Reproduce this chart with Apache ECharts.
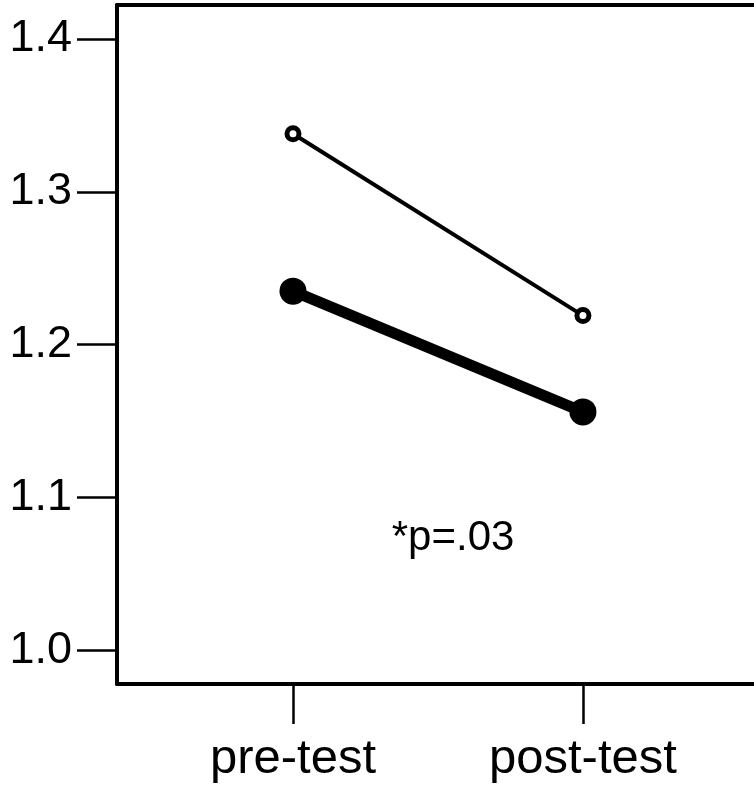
<!DOCTYPE html>
<html>
<head>
<meta charset="utf-8">
<script src="https://cdn.jsdelivr.net/npm/echarts@6/dist/echarts.min.js"></script>
<style>
  html, body { margin: 0; padding: 0; background: #fff; }
  #chart { width: 754px; height: 788px; }
</style>
</head>
<body>
<div id="chart"></div>
<script>
// data
var categories = ['pre-test', 'post-test'];
var catPositions = [1, 2];
var thinValues = [1.338, 1.219];
var thickValues = [1.235, 1.156];
var yTicks = [1.0, 1.1, 1.2, 1.3, 1.4];
var note = '*p=.03';
var notePos = [1.552, 1.073];

function pairs(vals) {
    return vals.map(function (v, i) { return [catPositions[i], v]; });
}

var myChart = echarts.init(document.getElementById('chart'));
var font = 'Liberation Sans, Arial, sans-serif';
var xMin = 0.393, xMax = 2.59;

var option = {
    animation: false,
    grid: {
        left: 117,
        top: 5,
        bottom: 104,
        right: 0
    },
    xAxis: [{
        type: 'value',
        position: 'bottom',
        min: xMin,
        max: xMax,
        splitLine: { show: false },
        axisLine: { show: true, onZero: false, lineStyle: { color: '#000', width: 4 } },
        axisTick: {
            show: true,
            customValues: catPositions,
            length: 40,
            lineStyle: { color: '#000', width: 2.5 }
        },
        axisLabel: {
            customValues: catPositions,
            margin: 51,
            fontSize: 49,
            fontFamily: font,
            color: '#000',
            formatter: function (v) {
                var i = catPositions.indexOf(v);
                return i >= 0 ? categories[i] : '';
            }
        }
    }, {
        // top frame line only
        type: 'value',
        position: 'top',
        min: xMin,
        max: xMax,
        splitLine: { show: false },
        axisLine: { show: true, onZero: false, lineStyle: { color: '#000', width: 4 } },
        axisTick: { show: false },
        axisLabel: { show: false }
    }],
    yAxis: {
        type: 'value',
        min: 0.978,
        max: 1.4222,
        splitLine: { show: false },
        axisLine: { show: true, onZero: false, lineStyle: { color: '#000', width: 4 } },
        axisTick: {
            show: true,
            customValues: yTicks,
            length: 40,
            lineStyle: { color: '#000', width: 2.5 }
        },
        axisLabel: {
            customValues: yTicks,
            margin: 45,
            fontSize: 45,
            fontFamily: font,
            color: '#000',
            formatter: function (v) { return v.toFixed(1); }
        }
    },
    series: [
        {
            name: 'thin',
            type: 'line',
            data: pairs(thinValues),
            symbol: 'circle',
            symbolSize: 12,
            lineStyle: { color: '#000', width: 4 },
            itemStyle: { color: '#fff', borderColor: '#000', borderWidth: 5 },
            z: 3
        },
        {
            name: 'thick',
            type: 'line',
            data: pairs(thickValues),
            symbol: 'circle',
            symbolSize: 27,
            lineStyle: { color: '#000', width: 11 },
            itemStyle: { color: '#000', borderWidth: 0 },
            z: 3
        }
    ]
};

myChart.setOption(option, true);

var p = myChart.convertToPixel({ xAxisIndex: 0, yAxisIndex: 0 }, notePos);
myChart.setOption({
    graphic: [{
        type: 'text',
        x: p[0],
        y: p[1],
        style: {
            text: note,
            fontSize: 42,
            fontFamily: font,
            fill: '#000',
            align: 'center',
            verticalAlign: 'middle'
        }
    }]
});
</script>
</body>
</html>
